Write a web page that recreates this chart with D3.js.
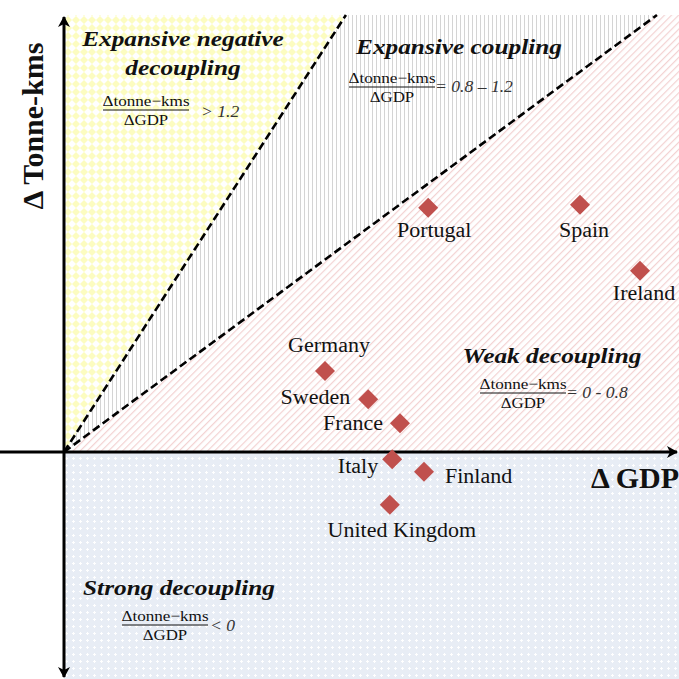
<!DOCTYPE html>
<html>
<head>
<meta charset="utf-8">
<script src="https://cdn.jsdelivr.net/npm/d3@7"></script>
<style>
html,body{margin:0;padding:0;background:#fff;}
svg{display:block;}
text{font-family:"Liberation Serif","Times New Roman",Times,serif;}
</style>
</head>
<body>
<svg id="chart" width="679" height="679"></svg>
<script>
// ---- data ----
const countries = ["Portugal","Spain","Ireland","Germany","Sweden","France","Italy","Finland","United Kingdom"];
const gdpChange = [6.07, 8.6, 9.6, 4.35, 5.07, 5.6, 5.47, 6.0, 5.43];
const tkmChange = [4.07, 4.12, 3.02, 1.35, 0.88, 0.48, -0.12, -0.33, -0.88];
const boundarySlopes = [1.55, 0.737];   // drawn dividing lines (upper, lower)
const zoneTitles = [["Expansive negative","decoupling"],["Expansive coupling"],["Weak decoupling"],["Strong decoupling"]];
const zoneRatios = ["> 1.2","= 0.8 \u2013 1.2","= 0 - 0.8","< 0"];

const svg = d3.select("#chart");
const W = 679, H = 679;
const x = d3.scaleLinear().domain([0, 10]).range([64, 664]);
const y = d3.scaleLinear().domain([0, 7]).range([452, 32]);
const xMax = x.invert(W), yMax = y.invert(15), yMin = y.invert(H);
const FONT = "'Liberation Serif','Times New Roman',Times,serif";

function stretch(sel, f){
  sel.each(function(){
    const L = this.getComputedTextLength();
    d3.select(this).attr("textLength", L*f).attr("lengthAdjust","spacingAndGlyphs");
  });
}

// ---- patterns ----
const defs = svg.append("defs");
const pY = defs.append("pattern").attr("id","pYellow").attr("patternUnits","userSpaceOnUse").attr("width",8).attr("height",8);
pY.append("rect").attr("width",8).attr("height",8).attr("fill","#ffffff");
pY.append("path").attr("d","M4,0L8,4L4,8L0,4Z").attr("fill","#fcfcc0");

const pG = defs.append("pattern").attr("id","pGrey").attr("patternUnits","userSpaceOnUse").attr("width",4).attr("height",4);
pG.append("rect").attr("width",4).attr("height",4).attr("fill","#ffffff");
pG.append("rect").attr("x",0).attr("width",1).attr("height",4).attr("fill","#d4d4d4");

const pP = defs.append("pattern").attr("id","pPink").attr("patternUnits","userSpaceOnUse").attr("width",5).attr("height",5)
  .attr("patternTransform","rotate(45)");
pP.append("rect").attr("width",5).attr("height",5).attr("fill","#ffffff");
pP.append("rect").attr("x",0).attr("width",1.2).attr("height",5).attr("fill","#f3d2d2");

const pB = defs.append("pattern").attr("id","pBlue").attr("patternUnits","userSpaceOnUse").attr("width",7).attr("height",7);
pB.append("rect").attr("width",7).attr("height",7).attr("fill","#e8edf5");
pB.append("rect").attr("x",3).attr("y",2).attr("width",1).attr("height",3).attr("fill","#ffffff");
pB.append("rect").attr("x",2).attr("y",3).attr("width",3).attr("height",1).attr("fill","#ffffff");

const ah = defs.append("marker").attr("id","arrow").attr("viewBox","0 0 12 12").attr("refX",10).attr("refY",6)
  .attr("markerWidth",12).attr("markerHeight",12).attr("markerUnits","userSpaceOnUse").attr("orient","auto-start-reverse");
ah.append("path").attr("d","M0,0L11,6L0,12L3,6Z").attr("fill","#000");

// ---- regions ----
const line = d3.line().x(d=>x(d[0])).y(d=>y(d[1]));
const s1 = boundarySlopes[0], s2 = boundarySlopes[1];
const regions = [
  {fill:"url(#pBlue)", pts:[[0,0],[xMax,0],[xMax,yMin],[0,yMin]]},
  {fill:"url(#pPink)", pts:[[0,0],[yMax/s2,yMax],[xMax,yMax],[xMax,0]]},
  {fill:"url(#pGrey)", pts:[[0,0],[yMax/s1,yMax],[yMax/s2,yMax]]},
  {fill:"url(#pYellow)", pts:[[0,0],[0,yMax],[yMax/s1,yMax]]}
];
svg.selectAll("path.region").data(regions).join("path").attr("class","region")
  .attr("d",d=>line(d.pts)+"Z").attr("fill",d=>d.fill);

// boundaries
svg.selectAll("path.bound").data(boundarySlopes).join("path").attr("class","bound")
  .attr("d",s=>line([[0,0],[yMax/s,yMax]])).attr("stroke","#000").attr("stroke-width",2.6)
  .attr("stroke-dasharray","8,4").attr("fill","none");

// axes
svg.append("line").attr("x1",0).attr("x2",x(xMax)-2).attr("y1",y(0)).attr("y2",y(0))
  .attr("stroke","#000").attr("stroke-width",3).attr("marker-end","url(#arrow)");
svg.append("line").attr("x1",x(0)).attr("x2",x(0)).attr("y1",y(yMax)+2).attr("y2",y(yMin)-2)
  .attr("stroke","#000").attr("stroke-width",3).attr("marker-end","url(#arrow)").attr("marker-start","url(#arrow)");

// axis titles
svg.append("text").attr("transform","translate(43,126) rotate(-90)").attr("text-anchor","middle")
  .style("font-family",FONT).attr("font-weight","bold").attr("font-size",30).attr("fill","#111").text("\u0394 Tonne-kms");
svg.append("text").attr("x",679).attr("y",488).attr("text-anchor","end")
  .style("font-family",FONT).attr("font-weight","bold").attr("font-size",30).attr("fill","#111").text("\u0394 GDP");

// zone titles
const titleAttrs = [
  {x:183, ys:[46,75]},
  {x:459, ys:[54]},
  {x:552, ys:[363]},
  {x:179, ys:[595]}
];
zoneTitles.forEach((lines,i)=>{
  lines.forEach((t,j)=>{
    svg.append("text").attr("x",titleAttrs[i].x).attr("y",titleAttrs[i].ys[j]).attr("text-anchor","middle")
      .style("font-family",FONT).attr("font-weight","bold").attr("font-style","italic")
      .attr("font-size",22).attr("fill","#111").text(t).call(stretch,1.15);
  });
});

// fractions
const fracPos = [
  {cx:146, ly:110, rx:201, ry:117},
  {cx:392, ly:87, rx:435, ry:92},
  {cx:523, ly:393, rx:566, ry:398},
  {cx:165, ly:625, rx:210, ry:631}
];
zoneRatios.forEach((r,i)=>{
  const f = fracPos[i];
  svg.append("text").attr("x",f.cx).attr("y",f.ly-4).attr("text-anchor","middle")
    .style("font-family",FONT).attr("font-size",15).attr("fill","#111").text("\u0394tonne\u2212kms").call(stretch,1.14);
  svg.append("line").attr("x1",f.cx-43).attr("x2",f.cx+43).attr("y1",f.ly).attr("y2",f.ly).attr("stroke","#111").attr("stroke-width",1);
  svg.append("text").attr("x",f.cx).attr("y",f.ly+15).attr("text-anchor","middle")
    .style("font-family",FONT).attr("font-size",15).attr("fill","#111").text("\u0394GDP").call(stretch,1.12);
  svg.append("text").attr("x",f.rx).attr("y",f.ry).attr("text-anchor","start")
    .style("font-family",FONT).attr("font-style","italic").attr("font-size",16).attr("fill","#333").text(r).call(stretch,1.1);
});

// points
const pts = countries.map((c,i)=>({c, gx:gdpChange[i], ty:tkmChange[i]}));
const sym = d3.symbol().type(d3.symbolSquare).size(200);
svg.selectAll("path.pt").data(pts).join("path").attr("class","pt")
  .attr("d",sym).attr("transform",d=>`translate(${x(d.gx)},${y(d.ty)}) rotate(45)`).attr("fill","#c0504d");

// label placement (styling)
const place = {
  "Portugal":      {a:"middle", dx:6,  dy:29},
  "Spain":         {a:"middle", dx:4,  dy:32},
  "Ireland":       {a:"middle", dx:4,  dy:29},
  "Germany":       {a:"middle", dx:4,  dy:-19},
  "Sweden":        {a:"end",    dx:-18,dy:5},
  "France":        {a:"end",    dx:-17,dy:7},
  "Italy":         {a:"end",    dx:-14,dy:14},
  "Finland":       {a:"start",  dx:21, dy:11},
  "United Kingdom":{a:"middle", dx:12, dy:32}
};
svg.selectAll("text.lab").data(pts).join("text").attr("class","lab")
  .style("font-family",FONT).attr("font-size",20).attr("fill","#111")
  .attr("x",d=>x(d.gx)+place[d.c].dx)
  .attr("y",d=>y(d.ty)+place[d.c].dy)
  .attr("text-anchor",d=>place[d.c].a)
  .text(d=>d.c).call(stretch,1.1);
</script>
</body>
</html>
